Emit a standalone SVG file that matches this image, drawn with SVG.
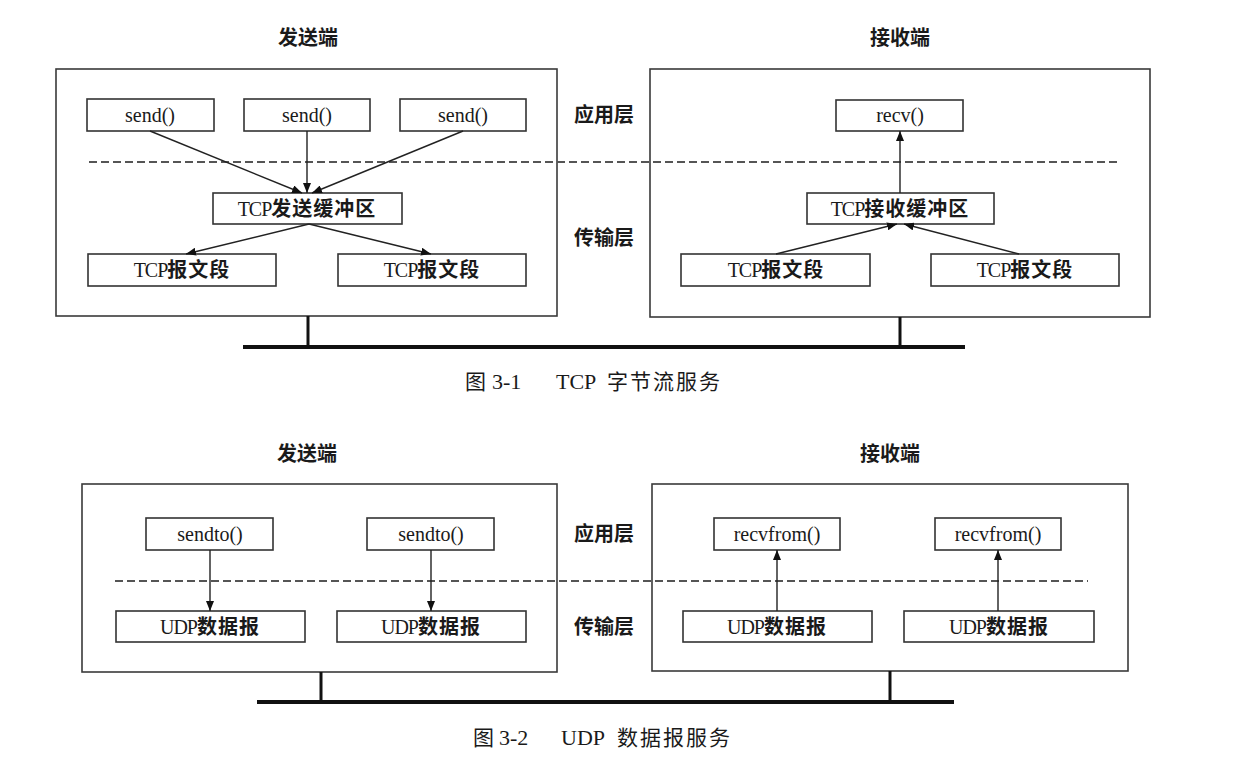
<svg xmlns="http://www.w3.org/2000/svg" width="1252" height="766" viewBox="0 0 1252 766">
<style>
  .frame{fill:none;stroke:#3a3a3a;stroke-width:1.6}
  .box{fill:#fff;stroke:#333;stroke-width:1.6}
  .dash{fill:none;stroke:#555;stroke-width:2;stroke-dasharray:8 4}
  .ground{stroke:#111;stroke-width:4;fill:none}
  .stem{stroke:#111;stroke-width:3;fill:none}
  .arr{stroke:#222;stroke-width:1.4;fill:none;marker-end:url(#ah)}
  text{font-family:"Liberation Serif","Noto Sans CJK SC",serif;fill:#1a1a1a}
  .lbl{font-size:20px;text-anchor:middle}
  .cj{font-family:"Noto Sans CJK SC",sans-serif;font-weight:bold;font-size:20px;letter-spacing:1px}
  .ttl{font-family:"Noto Sans CJK SC",sans-serif;font-weight:bold;font-size:20px;text-anchor:middle}
  .cap{font-size:22px}
  .capcj{font-family:"Noto Sans CJK SC",sans-serif;font-size:21px;letter-spacing:2px}
  .lat{letter-spacing:-1px}
</style>
<defs>
  <marker id="ah" markerUnits="userSpaceOnUse" markerWidth="10" markerHeight="8" refX="10" refY="4" orient="auto">
    <path d="M0,0 L10,4 L0,8 z" fill="#111"/>
  </marker>
</defs>

<!-- ===== Figure 3-1 ===== -->
<g id="tcp-sender">
  <text class="ttl" x="308" y="45">发送端</text>
  <rect class="frame" x="56" y="69" width="501" height="247"/>
</g>
<g id="tcp-receiver">
  <text class="ttl" x="900" y="45">接收端</text>
  <rect class="frame" x="650" y="69" width="500" height="248"/>
</g>
<g id="tcp-layers">
  <text class="ttl" x="604" y="122">应用层</text>
  <text class="ttl" x="604" y="245">传输层</text>
</g>
<line class="dash" x1="89" y1="162" x2="1117" y2="162"/>

<g id="send1"><rect class="box" x="87" y="99" width="127" height="32"/><text class="lbl" x="150" y="122">send()</text></g>
<g id="send2"><rect class="box" x="244" y="99" width="126" height="32"/><text class="lbl" x="307" y="122">send()</text></g>
<g id="send3"><rect class="box" x="400" y="99" width="126" height="32"/><text class="lbl" x="463" y="122">send()</text></g>
<g id="tcp-send-buf"><rect class="box" x="213" y="193" width="189" height="31"/><text class="lbl" x="307" y="216"><tspan class="lat">TCP</tspan><tspan class="cj">发送缓冲区</tspan></text></g>
<g id="tcp-seg-s1"><rect class="box" x="88" y="254" width="188" height="32"/><text class="lbl" x="182" y="277"><tspan class="lat">TCP</tspan><tspan class="cj">报文段</tspan></text></g>
<g id="tcp-seg-s2"><rect class="box" x="338" y="254" width="188" height="32"/><text class="lbl" x="432" y="277"><tspan class="lat">TCP</tspan><tspan class="cj">报文段</tspan></text></g>

<g id="recv"><rect class="box" x="836" y="100" width="127" height="31"/><text class="lbl" x="900" y="122">recv()</text></g>
<g id="tcp-recv-buf"><rect class="box" x="807" y="193" width="187" height="31"/><text class="lbl" x="900" y="216"><tspan class="lat">TCP</tspan><tspan class="cj">接收缓冲区</tspan></text></g>
<g id="tcp-seg-r1"><rect class="box" x="681" y="254" width="189" height="32"/><text class="lbl" x="776" y="277"><tspan class="lat">TCP</tspan><tspan class="cj">报文段</tspan></text></g>
<g id="tcp-seg-r2"><rect class="box" x="931" y="254" width="188" height="32"/><text class="lbl" x="1025" y="277"><tspan class="lat">TCP</tspan><tspan class="cj">报文段</tspan></text></g>

<g id="tcp-network">
  <line class="stem" x1="308" y1="316" x2="308" y2="347"/>
  <line class="stem" x1="900" y1="317" x2="900" y2="347"/>
  <line class="ground" x1="243" y1="347" x2="965" y2="347"/>
</g>

<g id="tcp-caption">
  <text class="cap" y="389"><tspan class="capcj" x="465">图</tspan><tspan x="492">3-1</tspan><tspan x="556">TCP</tspan><tspan class="capcj" x="607">字节流服务</tspan></text>
</g>

<!-- ===== Figure 3-2 ===== -->
<g id="udp-sender">
  <text class="ttl" x="307" y="461">发送端</text>
  <rect class="frame" x="82" y="484" width="475" height="188"/>
</g>
<g id="udp-receiver">
  <text class="ttl" x="890" y="461">接收端</text>
  <rect class="frame" x="652" y="484" width="476" height="187"/>
</g>
<g id="udp-layers">
  <text class="ttl" x="604" y="541">应用层</text>
  <text class="ttl" x="604" y="634">传输层</text>
</g>
<line class="dash" x1="115" y1="581" x2="1088" y2="581"/>

<g id="sendto1"><rect class="box" x="146" y="518" width="127" height="32"/><text class="lbl" x="210" y="541">sendto()</text></g>
<g id="sendto2"><rect class="box" x="367" y="518" width="127" height="32"/><text class="lbl" x="431" y="541">sendto()</text></g>
<g id="udp-s1"><rect class="box" x="116" y="611" width="189" height="31"/><text class="lbl" x="210" y="634"><tspan class="lat">UDP</tspan><tspan class="cj">数据报</tspan></text></g>
<g id="udp-s2"><rect class="box" x="337" y="611" width="189" height="31"/><text class="lbl" x="431" y="634"><tspan class="lat">UDP</tspan><tspan class="cj">数据报</tspan></text></g>

<g id="recvfrom1"><rect class="box" x="714" y="518" width="126" height="32"/><text class="lbl" x="777" y="541">recvfrom()</text></g>
<g id="recvfrom2"><rect class="box" x="935" y="518" width="126" height="32"/><text class="lbl" x="998" y="541">recvfrom()</text></g>
<g id="udp-r1"><rect class="box" x="683" y="611" width="189" height="31"/><text class="lbl" x="777" y="634"><tspan class="lat">UDP</tspan><tspan class="cj">数据报</tspan></text></g>
<g id="udp-r2"><rect class="box" x="904" y="611" width="190" height="31"/><text class="lbl" x="999" y="634"><tspan class="lat">UDP</tspan><tspan class="cj">数据报</tspan></text></g>

<g id="udp-network">
  <line class="stem" x1="321" y1="672" x2="321" y2="702"/>
  <line class="stem" x1="890" y1="671" x2="890" y2="702"/>
  <line class="ground" x1="257" y1="702" x2="954" y2="702"/>
</g>

<g id="udp-caption">
  <text class="cap" y="745"><tspan class="capcj" x="473">图</tspan><tspan x="499">3-2</tspan><tspan x="561">UDP</tspan><tspan class="capcj" x="617">数据报服务</tspan></text>
</g>

<!-- ===== Connectors ===== -->
<g id="connectors">
  <line class="arr" x1="150" y1="131" x2="302" y2="193"/>
  <line class="arr" x1="307" y1="131" x2="307" y2="193"/>
  <line class="arr" x1="463" y1="131" x2="312" y2="193"/>
  <line class="arr" x1="309" y1="224" x2="186" y2="254"/>
  <line class="arr" x1="309" y1="224" x2="431" y2="254"/>
  <line class="arr" x1="900" y1="193" x2="900" y2="131"/>
  <line class="arr" x1="776" y1="254" x2="897" y2="224"/>
  <line class="arr" x1="1019" y1="254" x2="904" y2="224"/>
  <line class="arr" x1="210" y1="550" x2="210" y2="611"/>
  <line class="arr" x1="431" y1="550" x2="431" y2="611"/>
  <line class="arr" x1="777" y1="611" x2="777" y2="550"/>
  <line class="arr" x1="998" y1="611" x2="998" y2="550"/>
</g>
</svg>
